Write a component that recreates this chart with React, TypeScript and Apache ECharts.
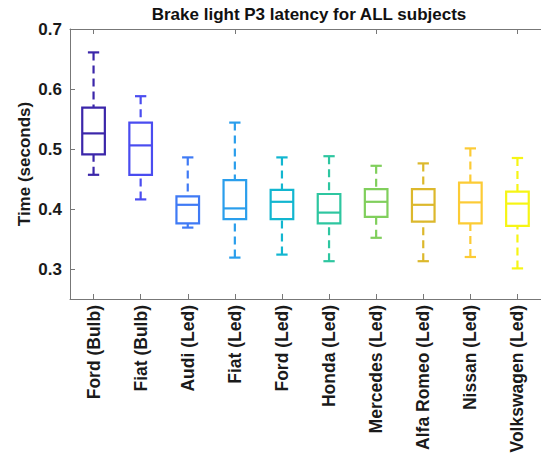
import React, { useEffect, useRef } from "react";
import * as echarts from "echarts";

const categories = [
  "Ford (Bulb)",
  "Fiat (Bulb)",
  "Audi (Led)",
  "Fiat (Led)",
  "Ford (Led)",
  "Honda (Led)",
  "Mercedes (Led)",
  "Alfa Romeo (Led)",
  "Nissan (Led)",
  "Volkswagen (Led)",
];
const lowerWhisker = [0.457, 0.416, 0.369, 0.319, 0.324, 0.313, 0.352, 0.313, 0.32, 0.301];
const q1 = [0.491, 0.457, 0.376, 0.383, 0.383, 0.376, 0.387, 0.379, 0.376, 0.372];
const median = [0.526, 0.506, 0.407, 0.401, 0.412, 0.394, 0.412, 0.407, 0.411, 0.409];
const q3 = [0.569, 0.544, 0.421, 0.448, 0.432, 0.425, 0.433, 0.433, 0.444, 0.429];
const upperWhisker = [0.661, 0.588, 0.486, 0.544, 0.486, 0.488, 0.472, 0.476, 0.501, 0.485];
const boxColors = [
  "#3b26aa",
  "#4a4cf0",
  "#3f7af5",
  "#2a9eec",
  "#12b6d0",
  "#2ec6a0",
  "#80cf5c",
  "#dcb82c",
  "#fccb35",
  "#f6f514",
];

const TITLE = "Brake light P3 latency for ALL subjects";
const Y_NAME = "Time (seconds)";

export default function App() {
  const ref = useRef<HTMLDivElement>(null);
  useEffect(() => {
    if (!ref.current) return;
    const chart = echarts.init(ref.current, null, { renderer: "svg" });
    const data = categories.map((_, i) => [i, lowerWhisker[i], q1[i], median[i], q3[i], upperWhisker[i]]);
    const axisColor = "#777777";
    const labelFont = { fontFamily: "Liberation Sans, Arial, sans-serif", fontWeight: "bold" as const };

    const option: any = {
      animation: false,
      backgroundColor: "#ffffff",
      graphic: [
        {
          type: "text",
          x: 309,
          y: 6,
          style: {
            text: TITLE,
            textAlign: "center",
            textVerticalAlign: "top",
            fill: "#111111",
            font: "bold 17px 'Liberation Sans', Arial, sans-serif",
          },
        },
      ],
      grid: { left: 70, top: 29, width: 477, height: 270, containLabel: false },
      xAxis: [
        {
          type: "category",
          data: categories,
          position: "bottom",
          boundaryGap: true,
          axisLine: { show: true, lineStyle: { color: axisColor, width: 1 } },
          axisTick: { show: true, inside: true, alignWithLabel: true, length: 5, lineStyle: { color: axisColor } },
          axisLabel: {
            rotate: 90,
            margin: 6,
            fontSize: 17.5,
            color: "#1a1a1a",
            interval: 0,
            ...labelFont,
          },
          splitLine: { show: false },
        },
        {
          type: "category",
          data: categories,
          position: "top",
          boundaryGap: true,
          axisLine: { show: true, lineStyle: { color: axisColor, width: 1 } },
          axisTick: { show: true, inside: true, alignWithLabel: true, length: 5, lineStyle: { color: axisColor } },
          axisLabel: { show: false },
          splitLine: { show: false },
        },
      ],
      yAxis: {
        type: "value",
        min: 0.25,
        max: 0.7,
        name: Y_NAME,
        nameLocation: "middle",
        nameRotate: 90,
        nameGap: 37,
        nameMoveOverlap: false,
        nameTextStyle: { fontSize: 17, color: "#1a1a1a", ...labelFont },
        axisLine: { show: true, lineStyle: { color: axisColor, width: 1 } },
        axisTick: { show: true, inside: true, length: 5, lineStyle: { color: axisColor } },
        axisLabel: {
          showMinLabel: false,
          fontSize: 17,
          color: "#1a1a1a",
          margin: 8,
          formatter: (v: number) => v.toFixed(1),
          ...labelFont,
        },
        splitLine: { show: false },
      },
      series: [
        {
          type: "custom",
          xAxisIndex: 0,
          encode: { x: 0, y: [1, 2, 3, 4, 5] },
          data,
          renderItem: (params: any, api: any) => {
            const idx = api.value(0);
            const color = boxColors[params.dataIndex];
            const pLo = api.coord([idx, api.value(1)]);
            const pQ1 = api.coord([idx, api.value(2)]);
            const pMed = api.coord([idx, api.value(3)]);
            const pQ3 = api.coord([idx, api.value(4)]);
            const pHi = api.coord([idx, api.value(5)]);
            const band = api.size([1, 0])[0];
            const bw = band * 0.48;
            const cw = band * 0.24;
            const cx = pMed[0];
            const lw = 2.2;
            const dash = [8, 5];
            return {
              type: "group",
              children: [
                {
                  type: "line",
                  shape: { x1: cx, y1: pHi[1], x2: cx, y2: pQ3[1] },
                  style: { stroke: color, lineWidth: lw, lineDash: dash, fill: "none" },
                },
                {
                  type: "line",
                  shape: { x1: cx, y1: pLo[1], x2: cx, y2: pQ1[1] },
                  style: { stroke: color, lineWidth: lw, lineDash: dash, fill: "none" },
                },
                {
                  type: "line",
                  shape: { x1: cx - cw / 2, y1: pHi[1], x2: cx + cw / 2, y2: pHi[1] },
                  style: { stroke: color, lineWidth: lw },
                },
                {
                  type: "line",
                  shape: { x1: cx - cw / 2, y1: pLo[1], x2: cx + cw / 2, y2: pLo[1] },
                  style: { stroke: color, lineWidth: lw },
                },
                {
                  type: "rect",
                  shape: { x: cx - bw / 2, y: pQ3[1], width: bw, height: pQ1[1] - pQ3[1] },
                  style: { stroke: color, lineWidth: lw, fill: "none" },
                },
                {
                  type: "line",
                  shape: { x1: cx - bw / 2, y1: pMed[1], x2: cx + bw / 2, y2: pMed[1] },
                  style: { stroke: color, lineWidth: lw },
                },
              ],
            };
          },
        },
      ],
    };
    chart.setOption(option);
    return () => chart.dispose();
  }, []);
  return (
    <div
      ref={ref}
      style={{ position: "absolute", left: 0, top: 0, width: 541, height: 456, background: "#fff" }}
    />
  );
}
